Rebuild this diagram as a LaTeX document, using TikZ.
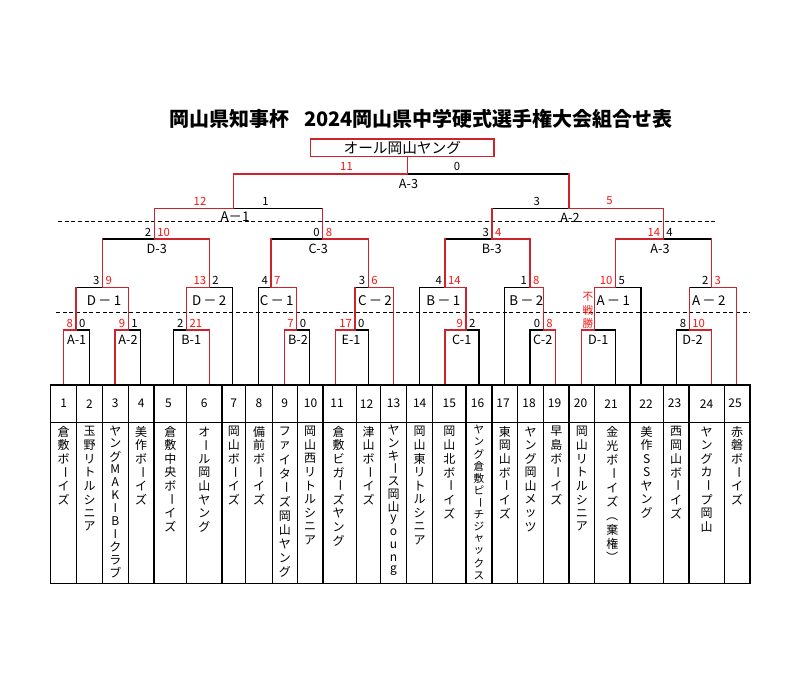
\documentclass[tikz,border=0pt]{standalone}
\usepackage{fontspec}
\usepackage{graphicx}
\setmainfont{Noto Sans CJK JP}
\usetikzlibrary{calc}
\definecolor{lred}{RGB}{205,35,45}
\definecolor{tred}{RGB}{250,20,20}

\ExplSyntaxOn
\NewDocumentCommand\vchar{m}{\str_case:nnF{#1}{{ー}{\rotatebox[origin=c]{-90}{ー}}{（}{\rotatebox[origin=c]{-90}{（}}{）}{\rotatebox[origin=c]{-90}{）}}}{#1}}
\NewDocumentCommand\vstack{O{10.2pt}m}{\vbox{\offinterlineskip\tl_map_inline:nn{#2}{\hbox_to_wd:nn{13pt}{\hss\vbox_to_ht:nn{#1}{\vss\hbox:n{\vchar{##1}}\vss}\hss}}}}
\ExplSyntaxOff

\newcommand\mk[5]{\coordinate (#1L) at (#2,#5); \coordinate (#1M) at (#3,#5); \coordinate (#1R) at (#4,#5);}
\newcommand\mtop[3]{\draw[#2] (#1L) -- (#1M); \draw[#3] (#1M) -- (#1R);}
\newcommand\bleg[2]{\draw[W] (#1M) -- (#1M |- #2L);}
\newcommand\sco[5]{\node[#4,anchor=base east] (#1sl) at ($(#1M)+(-2.8,-2.8)$) {#2}; \node[#5,anchor=base west] (#1sr) at ($(#1M)+(2.8,-2.8)$) {#3};}

\begin{document}
\begin{tikzpicture}[x=0.75pt,y=-0.75pt,
  W/.style={draw=lred,line width=0.9pt,line cap=rect},
  Bk/.style={draw=black,line width=0.85pt,line cap=rect},
  dline/.style={draw=black,line width=0.7pt,dash pattern=on 3pt off 2pt},
  sc/.style={font=\fontsize{8.5}{9}\selectfont,inner sep=0pt},
  scr/.style={sc,text=tred},
  lab/.style={font=\fontsize{9.5}{10}\selectfont,inner sep=0pt},
  labw/.style={font=\fontsize{10}{11}\selectfont,inner sep=0pt},
  num/.style={font=\fontsize{9}{10}\selectfont,inner sep=0pt},
  tname/.style={font=\fontsize{9}{10}\selectfont,inner sep=0pt,anchor=north},
  champ/.style={draw=lred,line width=1pt,minimum width=137.6pt,minimum height=13.3pt,inner sep=0pt,font=\fontsize{11}{12}\selectfont},
  ttl/.style={font=\fontsize{15}{18}\selectfont\bfseries,inner sep=0pt},
  tbl/.style={draw=black,line width=0.8pt},
  fusen/.style={font=\fontsize{8}{9}\selectfont,text=tred,inner sep=0pt},
]
\fill[white] (0,0) rectangle (800,687);
\useasboundingbox (0,0) rectangle (800,687);

% title and champion
\node[ttl] (title) at (421,118.5) {岡山県知事杯\hspace{0.75em}2024岡山県中学硬式選手権大会組合せ表};
\node[champ] (champ) at (402.3,147.9) {オール岡山ヤング};

% dashed lines
\coordinate (dl1a) at (58,221.7); \coordinate (dl1b) at (717,221.7);
\coordinate (dl2a) at (56,312); \coordinate (dl2b) at (750,312);
\draw[dline] (dl1a) -- (dl1b);
\draw[dline] (dl2a) -- (dl2b);

% team line feet
\foreach \i/\x in {1/63.5,2/89.3,3/115,4/140.7,5/173.5,6/209.3,7/232.7,8/258.3,9/284.3,10/309.3,11/335.3,12/368.3,13/393.3,14/419.3,15/445,16/479,17/504.3,18/530,19/555.7,20/581.7,21/615.5,22/641,23/676.7,24/711.5,25/736.7}
  \coordinate (t\i) at (\x,385);

% matches: name, xL, xM, xR, y
\mk{a1s}{63.5}{76}{89.3}{330}
\mk{a2s}{115}{128.3}{140.7}{330}
\mk{d1}{76}{102.5}{128.3}{287.3}
\mk{b1s}{173.5}{186.5}{209.3}{330}
\mk{d2}{186.5}{209.3}{232.7}{287.3}
\mk{d3}{102.5}{154.3}{209.3}{239}
\mk{b2s}{284.3}{296.7}{309.3}{330}
\mk{c1}{258.3}{271}{296.7}{287.3}
\mk{e1s}{335.3}{355}{368.3}{330}
\mk{c2}{355}{368.3}{393.3}{287.3}
\mk{c3}{271}{322.7}{368.3}{239}
\mk{aL}{154.3}{233.5}{322.7}{208.3}
\mk{c1r}{445}{466}{479}{330}
\mk{b1r}{419.3}{445}{466}{287.3}
\mk{c2r}{530}{543.3}{555.7}{330}
\mk{b2r}{504.3}{530}{543.3}{287.3}
\mk{b3}{445}{492}{530}{239}
\mk{d1r}{581.7}{594.3}{615.5}{330}
\mk{a1r}{594.3}{615.5}{641}{287.3}
\mk{d2r}{676.7}{689.3}{711.5}{330}
\mk{a2r}{689.3}{711.5}{736.7}{287.3}
\mk{a3r}{615.5}{663.3}{711.5}{239}
\mk{aR}{492}{569}{663.3}{208.3}
\mk{fin}{233.5}{407.3}{569}{174}

% losing team legs
\draw[Bk] (t2) -- (t2 |- a1sR);
\draw[Bk] (t4) -- (t4 |- a2sR);
\draw[Bk] (t5) -- (t5 |- b1sL);
\draw[Bk] (t7) -- (t7 |- d2R);
\draw[Bk] (t8) -- (t8 |- c1L);
\draw[Bk] (t10) -- (t10 |- b2sR);
\draw[Bk] (t12) -- (t12 |- e1sR);
\draw[Bk] (t14) -- (t14 |- b1rL);
\draw[Bk] (t16) -- (t16 |- c1rR);
\draw[Bk] (t17) -- (t17 |- b2rL);
\draw[Bk] (t18) -- (t18 |- c2rL);
\draw[Bk] (t21) -- (t21 |- d1rR);
\draw[Bk] (t22) -- (t22 |- a1rR);
\draw[Bk] (t23) -- (t23 |- d2rL);

% match tops
\mtop{a1s}{W}{Bk}
\mtop{a2s}{W}{Bk}
\mtop{d1}{Bk}{W}
\mtop{b1s}{Bk}{W}
\mtop{d2}{W}{Bk}
\mtop{d3}{Bk}{W}
\mtop{b2s}{W}{Bk}
\mtop{c1}{Bk}{W}
\mtop{e1s}{W}{Bk}
\mtop{c2}{Bk}{W}
\mtop{c3}{Bk}{W}
\mtop{aL}{W}{Bk}
\mtop{c1r}{W}{Bk}
\mtop{b1r}{Bk}{W}
\mtop{c2r}{Bk}{W}
\mtop{b2r}{Bk}{W}
\mtop{b3}{Bk}{W}
\mtop{d1r}{W}{Bk}
\mtop{a1r}{W}{Bk}
\mtop{d2r}{Bk}{W}
\mtop{a2r}{Bk}{W}
\mtop{a3r}{W}{Bk}
\mtop{aR}{Bk}{W}
\mtop{fin}{W}{Bk}

% winning team legs
\draw[W] (t1) -- (t1 |- a1sL);
\draw[W] (t3) -- (t3 |- a2sL);
\draw[W] (t6) -- (t6 |- b1sR);
\draw[W] (t9) -- (t9 |- b2sL);
\draw[W] (t11) -- (t11 |- e1sL);
\draw[W] (t13) -- (t13 |- c2R);
\draw[W] (t15) -- (t15 |- c1rL);
\draw[W] (t19) -- (t19 |- c2rR);
\draw[W] (t20) -- (t20 |- d1rL);
\draw[W] (t24) -- (t24 |- d2rR);
\draw[W] (t25) -- (t25 |- a2rR);

% match legs
\bleg{a1s}{d1} \bleg{a2s}{d1} \bleg{b1s}{d2}
\bleg{d1}{d3} \bleg{d2}{d3}
\bleg{b2s}{c1} \bleg{e1s}{c2}
\bleg{c1}{c3} \bleg{c2}{c3}
\bleg{d3}{aL} \bleg{c3}{aL}
\bleg{c1r}{b1r} \bleg{c2r}{b2r}
\bleg{b1r}{b3} \bleg{b2r}{b3}
\bleg{d1r}{a1r} \bleg{d2r}{a2r}
\bleg{a1r}{a3r} \bleg{a2r}{a3r}
\bleg{b3}{aR} \bleg{a3r}{aR}
\bleg{aL}{fin} \bleg{aR}{fin}
\draw[W] (finM) -- (finM |- champ.south);

% scores
\node[scr] (sfinl) at (346.5,166.7) {11};
\node[sc] (sfinr) at (457,166.7) {0};
\node[scr] (sall) at (200,201) {12};
\node[sc] (salr) at (265.5,201) {1};
\node[sc] (sarl) at (536.7,201) {3};
\node[scr] (sarr) at (609.5,201) {5};
\sco{d3}{2}{10}{sc}{scr}
\sco{c3}{0}{8}{sc}{scr}
\sco{b3}{3}{4}{sc}{scr}
\sco{a3r}{14}{4}{scr}{sc}
\sco{d1}{3}{9}{sc}{scr}
\sco{d2}{13}{2}{scr}{sc}
\sco{c1}{4}{7}{sc}{scr}
\sco{c2}{3}{6}{sc}{scr}
\sco{b1r}{4}{14}{sc}{scr}
\sco{b2r}{1}{8}{sc}{scr}
\sco{a1r}{10}{5}{scr}{sc}
\sco{a2r}{2}{3}{sc}{scr}
\sco{a1s}{8}{0}{scr}{sc}
\sco{a2s}{9}{1}{scr}{sc}
\sco{b1s}{2}{21}{sc}{scr}
\sco{b2s}{7}{0}{scr}{sc}
\sco{e1s}{17}{0}{scr}{sc}
\sco{c1r}{9}{2}{scr}{sc}
\sco{c2r}{0}{8}{sc}{scr}
\sco{d2r}{8}{10}{sc}{scr}
\node[fusen] (fusen) at (588,310) {\vstack[9.8pt]{不戦勝}};

% match labels
\node[lab] (lfin) at (408.5,183.5) {A-3};
\node[labw] (laL) at (235,217) {A－1};
\node[lab] (laR) at (570,217.5) {A-2};
\node[lab] (ld3) at (156.8,249) {D-3};
\node[lab] (lc3) at (318.3,249) {C-3};
\node[lab] (lb3) at (491.7,249) {B-3};
\node[lab] (la3r) at (660,249) {A-3};
\node[labw] (ld1) at (104,300.7) {D\,－\,1};
\node[labw] (ld2) at (209.2,300.7) {D\,－\,2};
\node[labw] (lc1) at (276.7,300.7) {C\,－\,1};
\node[labw] (lc2) at (375,300.7) {C\,－\,2};
\node[labw] (lb1r) at (443.3,300.7) {B\,－\,1};
\node[labw] (lb2r) at (526.3,300.7) {B\,－\,2};
\node[labw] (la1r) at (613.3,300.7) {A\,－\,1};
\node[labw] (la2r) at (708.8,300.7) {A\,－\,2};
\node[lab] (la1s) at (76.7,340) {A-1};
\node[lab] (la2s) at (128,340) {A-2};
\node[lab] (lb1s) at (191.3,340) {B-1};
\node[lab] (lb2s) at (298,340) {B-2};
\node[lab] (le1s) at (351,340) {E-1};
\node[lab] (lc1r) at (461.7,340) {C-1};
\node[lab] (lc2r) at (542.8,340) {C-2};
\node[lab] (ld1r) at (598.3,340) {D-1};
\node[lab] (ld2r) at (692.5,340) {D-2};

% table
\draw[tbl] (50.7,385) rectangle (750,583.3);
\draw[tbl] (50.7,422.3) -- (750,422.3);
\foreach \x in {76.7,102.3,128.3,154,186.7,222,245.7,272.3,297.3,323,356.7,380.3,406.7,432.7,466,492,517.7,543.7,569,594.7,630,663.3,689,724.3}
  \draw[tbl] (\x,385) -- (\x,583.3);

% numbers
\foreach \i/\x in {1/63.7,2/89.5,3/115.3,4/141.2,5/168.5,6/204.3,7/233.8,8/259,9/284.8,10/310.5,11/337,12/366.5,13/393.5,14/419.7,15/449.3,16/477.5,17/503,18/529,19/554.5,20/580.5,21/611,22/646,23/674.5,24/706.5,25/735}
  \node[num] (k\i) at (\x,403.7) {\i};

% team names
\node[tname] (n1) at (63.7,424.5) {\vstack{倉敷ボーイズ}};
\node[tname] (n2) at (89.5,424.5) {\vstack{玉野リトルシニア}};
\node[tname] (n3) at (115.3,424) {\vstack[9.7pt]{ヤングMAKIBIクラブ}};
\node[tname] (n4) at (141.2,424.5) {\vstack{美作ボーイズ}};
\node[tname] (n5) at (170.3,424.5) {\vstack{倉敷中央ボーイズ}};
\node[tname] (n6) at (204.3,424.5) {\vstack{オール岡山ヤング}};
\node[tname] (n7) at (233.8,424.5) {\vstack{岡山ボーイズ}};
\node[tname] (n8) at (259,424.5) {\vstack{備前ボーイズ}};
\node[tname] (n9) at (284.8,424.5) {\vstack[10.5pt]{ファイターズ岡山ヤング}};
\node[tname] (n10) at (310.2,424.5) {\vstack{岡山西リトルシニア}};
\node[tname] (n11) at (338.5,424.5) {\vstack{倉敷ビガーズヤング}};
\node[tname] (n12) at (368.5,424.5) {\vstack{津山ボーイズ}};
\node[tname] (n13) at (393.5,423.5) {\vstack[9.6pt]{ヤンキース岡山young}};
\node[tname] (n14) at (419.7,424.5) {\vstack{岡山東リトルシニア}};
\node[tname] (n15) at (449.3,424.5) {\vstack{岡山北ボーイズ}};
\node[tname,font=\fontsize{8}{9}\selectfont] (n16) at (479,423.5) {\vstack[9.1pt]{ヤング倉敷ピーチジャックス}};
\node[tname] (n17) at (504.8,424.5) {\vstack{東岡山ボーイズ}};
\node[tname] (n18) at (530.7,424.5) {\vstack{ヤング岡山メッツ}};
\node[tname] (n19) at (556.3,424.5) {\vstack{早島ボーイズ}};
\node[tname] (n20) at (581.8,424.5) {\vstack{岡山リトルシニア}};
\node[tname] (n21) at (612.3,424.5) {\vstack[10.5pt]{金光ボーイズ（棄権）}};
\node[tname] (n22) at (646.7,424.5) {\vstack{美作SSヤング}};
\node[tname] (n23) at (676.2,424.5) {\vstack{西岡山ボーイズ}};
\node[tname] (n24) at (706.7,424.5) {\vstack{ヤングカープ岡山}};
\node[tname] (n25) at (737.2,424.5) {\vstack{赤磐ボーイズ}};
\end{tikzpicture}
\end{document}
